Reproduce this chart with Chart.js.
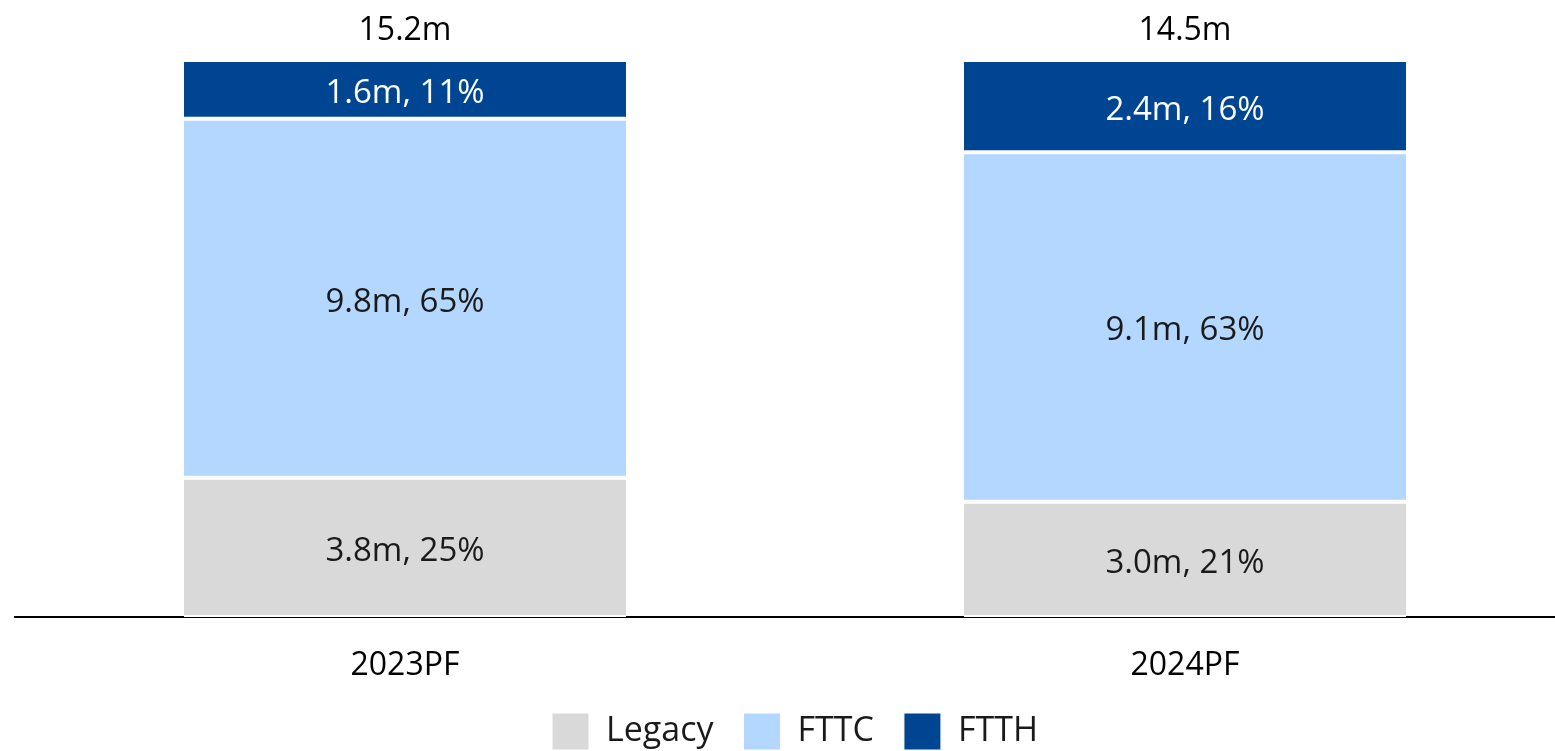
<!DOCTYPE html>
<html lang="en">
<head>
    <meta charset="UTF-8">
    <title>Broadband lines by technology</title>
    <style>
        html, body { margin: 0; padding: 0; overflow: hidden; background: #fff; }
        .chart-box { width: 1575px; height: 770px; position: relative; }
    </style>
</head>
<body>
    <div class="chart-box">
        <canvas id="lineChart"></canvas>
    </div>
    <script src="https://cdn.jsdelivr.net/npm/chart.js"></script>
    <script>
    // data (millions of lines) and the printed shares
    const years = ['2023PF', '2024PF'];
    const legacyM = [3.8, 3.0];
    const fttcM = [9.8, 9.1];
    const ftthM = [1.6, 2.4];
    const legacyPct = [25, 21];
    const fttcPct = [65, 63];
    const ftthPct = [11, 16];
    const totalsM = [15.2, 14.5];

    const FONT = "'Open Sans', 'Noto Sans', sans-serif";
    const TEXT = '#1a1a1a';

    // every bar is shown at the same height, so plot the share of its total
    function share(arr) {
        return arr.map((v, i) => v / totalsM[i]);
    }

    const seriesList = [
        { label: 'Legacy', m: legacyM, pct: legacyPct, color: '#d9d9d9', text: TEXT },
        { label: 'FTTC', m: fttcM, pct: fttcPct, color: '#b4d7ff', text: TEXT },
        { label: 'FTTH', m: ftthM, pct: ftthPct, color: '#004591', text: '#ffffff' }
    ];

    // labels inside the segments and totals above the bars
    const labelPlugin = {
        id: 'segLabels',
        afterDatasetsDraw(chart) {
            const ctx = chart.ctx;
            ctx.save();
            ctx.textAlign = 'center';
            ctx.textBaseline = 'middle';
            ctx.font = '33px ' + FONT;
            chart.data.datasets.forEach((ds, di) => {
                const meta = chart.getDatasetMeta(di);
                const s = seriesList[di];
                meta.data.forEach((bar, i) => {
                    ctx.fillStyle = s.text;
                    ctx.fillText(s.m[i].toFixed(1) + 'm, ' + s.pct[i] + '%', bar.x, (bar.y + bar.base) / 2 + 4);
                });
            });
            ctx.font = '32px ' + FONT;
            const top = chart.getDatasetMeta(chart.data.datasets.length - 1);
            top.data.forEach((bar, i) => {
                ctx.fillStyle = '#000';
                ctx.fillText(totalsM[i].toFixed(1) + 'm', bar.x, bar.y - 29);
            });
            ctx.restore();
        }
    };

    new Chart(document.getElementById('lineChart'), {
        type: 'bar',
        data: {
            labels: years,
            datasets: seriesList.map(s => ({
                label: s.label,
                data: share(s.m),
                backgroundColor: s.color,
                borderColor: '#ffffff',
                borderWidth: { top: 2, bottom: 2, left: 0, right: 0 },
                borderSkipped: false,
                categoryPercentage: 1,
                barPercentage: 0.567
            }))
        },
        options: {
            responsive: true,
            maintainAspectRatio: false,
            animation: false,
            layout: {
                padding: { top: 60, left: 15, right: 0, bottom: 10 }
            },
            scales: {
                x: {
                    stacked: true,
                    grid: { display: false },
                    border: { display: true, color: '#000', width: 2 },
                    ticks: {
                        color: '#000',
                        padding: 22,
                        font: { family: FONT, size: 32 }
                    },
                    afterFit(scale) {
                        scale.height = 66;
                    }
                },
                y: {
                    stacked: true,
                    display: false,
                    min: 0,
                    max: 1
                }
            },
            plugins: {
                legend: {
                    position: 'bottom',
                    labels: {
                        boxWidth: 37,
                        boxHeight: 37,
                        padding: 30,
                        color: TEXT,
                        font: { family: FONT, size: 34 }
                    }
                },
                tooltip: { enabled: false }
            }
        },
        plugins: [labelPlugin]
    });
    </script>
</body>
</html>
